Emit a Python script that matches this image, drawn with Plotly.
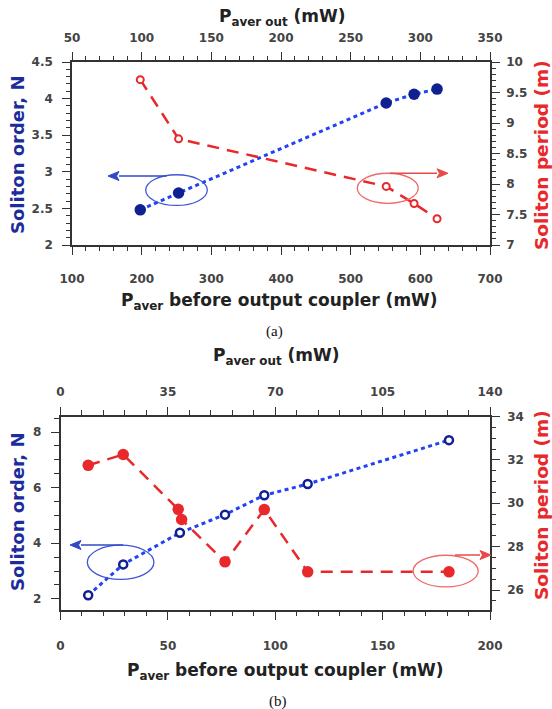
import plotly.graph_objects as go

W, H = 552, 709

# ---------- data ----------
a_pin = [198, 253, 551, 591, 624]
a_order = [2.48, 2.71, 3.94, 4.06, 4.13]
a_period = [9.71, 8.74, 7.96, 7.68, 7.43]

b_pin_order = [12.9, 29.2, 55.6, 76.6, 94.9, 115.1, 180.9]
b_order = [2.13, 3.24, 4.38, 5.03, 5.73, 6.13, 7.71]
b_pin_period = [12.9, 29.2, 54.8, 56.4, 76.6, 94.9, 115.1, 180.9]
b_period = [31.75, 32.25, 29.72, 29.25, 27.3, 29.71, 26.84, 26.84]

BLUE_LINE = "#2142f5"
NAVY = "#0f2090"
RED = "#e8282b"
TICKC = "#444444"
FONT = "DejaVu Sans"


def px(x):
    return x / W


def py(y):
    return 1 - y / H


fig = go.Figure()

# panel a
fig.add_trace(go.Scatter(x=a_pin, y=a_order, xaxis="x", yaxis="y", mode="lines+markers",
                         line=dict(color=BLUE_LINE, width=3, dash="4px,3.5px"),
                         marker=dict(color=NAVY, size=11.5, line=dict(width=0)), showlegend=False))
fig.add_trace(go.Scatter(x=a_pin, y=a_period, xaxis="x", yaxis="y2", mode="lines+markers",
                         line=dict(color=RED, width=2.5, dash="12px,8px"),
                         marker=dict(color="white", size=7, line=dict(color=RED, width=2)), showlegend=False))
fig.add_trace(go.Scatter(x=[], y=[], xaxis="x2", yaxis="y", showlegend=False))

# panel b
fig.add_trace(go.Scatter(x=b_pin_order, y=b_order, xaxis="x3", yaxis="y3", mode="lines+markers",
                         line=dict(color=BLUE_LINE, width=3, dash="4px,3.5px"),
                         marker=dict(color="white", size=8, line=dict(color=NAVY, width=2.5)), showlegend=False))
fig.add_trace(go.Scatter(x=b_pin_period, y=b_period, xaxis="x3", yaxis="y4", mode="lines+markers",
                         line=dict(color=RED, width=2.5, dash="12px,8px"),
                         marker=dict(color=RED, size=11.5, line=dict(width=0)), showlegend=False))
fig.add_trace(go.Scatter(x=[], y=[], xaxis="x4", yaxis="y3", showlegend=False))


def ax(domain, rng, dtick, minor, side, anchor, standoff, overlaying=None, tick0=0):
    d = dict(domain=domain, range=rng, dtick=dtick, tick0=tick0, side=side, anchor=anchor,
             showline=True, linecolor="#333", linewidth=1.5, ticks="outside", ticklen=8,
             tickwidth=1.3, tickcolor="#333", showgrid=False, zeroline=False,
             tickfont=dict(family=FONT, size=12, color=TICKC, weight="bold"), ticklabelstandoff=standoff,
             minor=dict(dtick=minor, ticklen=4.5, tickwidth=1.1, tickcolor="#333", ticks="outside", showgrid=False),
             automargin=False, fixedrange=True)
    if overlaying:
        d["overlaying"] = overlaying
    return d


xa = [px(72), px(490)]
ya = [py(245), py(62)]
xb = [px(60.5), px(490)]
yb = [py(610), py(416.5)]

fig.update_layout(
    width=W, height=H, margin=dict(l=0, r=0, t=0, b=0),
    paper_bgcolor="white", plot_bgcolor="white",
    xaxis=ax(xa, [100, 700], 100, 20, "bottom", "y", 14),
    xaxis2=ax(xa, [50, 350], 50, 10, "top", "y", 5, overlaying="x"),
    yaxis=ax(ya, [2, 4.5], 0.5, 0.1, "left", "x", 7),
    yaxis2=ax(ya, [7, 10], 0.5, 0.1, "right", "x", 4, overlaying="y"),
    xaxis3=ax(xb, [0, 200], 50, 10, "bottom", "y3", 16),
    xaxis4=ax(xb, [0, 140], 35, 7, "top", "y3", 6, overlaying="x3"),
    yaxis3=ax(yb, [1.6, 8.56], 2, 0.5, "left", "x3", 7),
    yaxis4=ax(yb, [25.08, 34], 2, 0.5, "right", "x3", 5, overlaying="y3"),
)

BLUE_ANN = "#3048c8"
RED_ANN = "#e84a4a"

shapes = [
    dict(type="circle", xref="x", yref="y", x0=205.8, x1=294.2, y0=2.54, y1=2.96,
         line=dict(color="#3f55d6", width=1.3)),
    dict(type="circle", xref="x", yref="y", x0=509.5, x1=597, y0=2.57, y1=2.98,
         line=dict(color="#ec6a6a", width=1.3)),
    dict(type="circle", xref="x3", yref="y3", x0=12.5, x1=43.5, y0=2.70, y1=3.93,
         line=dict(color="#3f55d6", width=1.3)),
    dict(type="circle", xref="x3", yref="y3", x0=164.2, x1=194.5, y0=2.43, y1=3.57,
         line=dict(color="#ec6a6a", width=1.3)),
]


def arrow_shape(tip_x, tail_x, y, color):
    # horizontal arrow given in pixel positions of the page
    d = 1 if tip_x > tail_x else -1
    base = tip_x - d * 11
    shapes.append(dict(type="line", xref="paper", yref="paper", x0=px(tail_x), x1=px(base),
                       y0=py(y), y1=py(y), line=dict(color=color, width=1.5)))
    path = f"M {px(tip_x)} {py(y)} L {px(base)} {py(y - 4.5)} L {px(base + d * 2.5)} {py(y)} L {px(base)} {py(y + 4.5)} Z"
    shapes.append(dict(type="path", xref="paper", yref="paper", path=path,
                       fillcolor=color, line=dict(color=color, width=1)))


arrow_shape(108, 166.7, 176, BLUE_ANN)
arrow_shape(448, 390, 173.3, RED_ANN)
arrow_shape(70, 123.3, 545, BLUE_ANN)
arrow_shape(491, 455, 555, RED_ANN)

fig.update_layout(shapes=shapes)

ann = []


def text(t, x, y, size=17, color="#222", angle=0, family=FONT, bold=True):
    s = f"<b>{t}</b>" if bold else t
    ann.append(dict(xref="paper", yref="paper", x=px(x), y=py(y), text=s, showarrow=False,
                    xanchor="center", yanchor="middle", textangle=angle,
                    font=dict(family=family, size=size, color=color)))


TITLE_C = "#222"
BLUE_T = "#1c2c9c"
text("P<sub>aver out</sub> (mW)", 282, 18, color=TITLE_C)
text("P<sub>aver</sub> before output coupler (mW)", 279, 301, color=TITLE_C)
text("(a)", 274, 332, size=15, color="#111", family="Liberation Serif", bold=False)
text("Soliton order, N", 17, 155, size=18, color=BLUE_T, angle=-90)
text("Soliton period (m)", 541, 155, size=18.5, color=RED, angle=-90)

text("P<sub>aver out</sub> (mW)", 276, 356, color=TITLE_C)
text("P<sub>aver</sub> before output coupler (mW)", 285, 671, color=TITLE_C)
text("(b)", 278, 701, size=15, color="#111", family="Liberation Serif", bold=False)
text("Soliton order, N", 17, 512, size=18, color=BLUE_T, angle=-90)
text("Soliton period (m)", 541, 505, size=18.5, color=RED, angle=-90)

fig.update_layout(annotations=ann)

fig.write_html("out.html")
